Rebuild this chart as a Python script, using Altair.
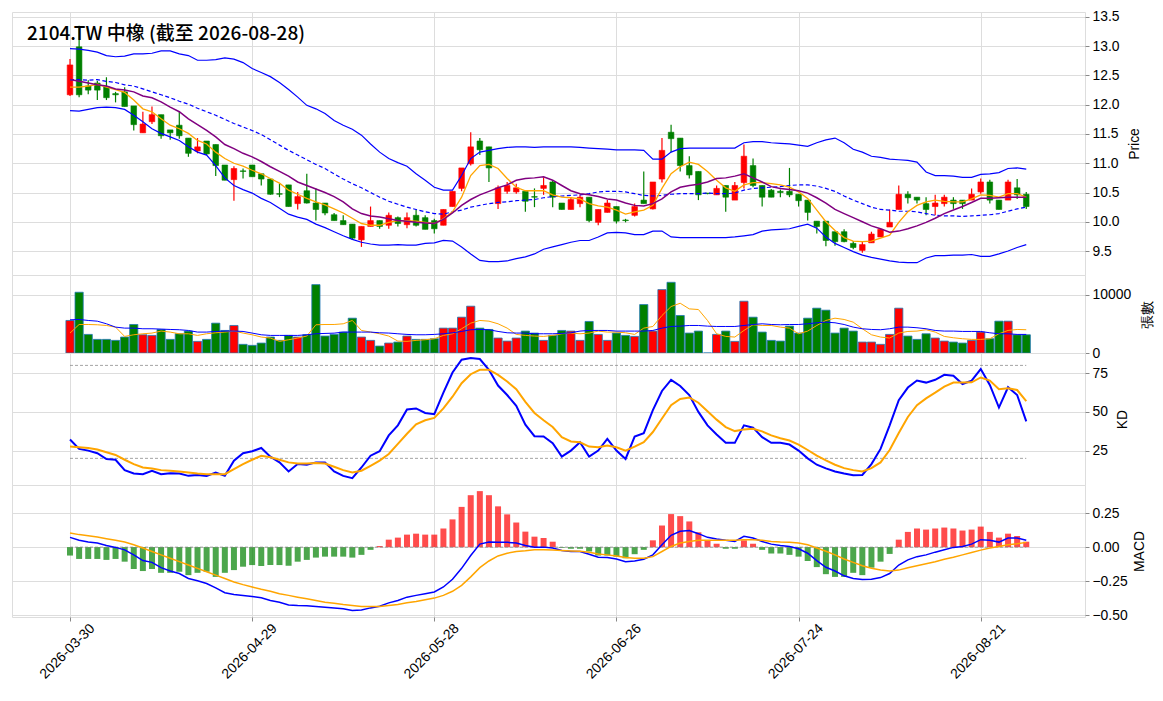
import altair as alt
import pandas as pd

FONT = "Noto Sans CJK TC"
title_text = "2104.TW 中橡 (截至 2026-08-28)"
tick_pos = [0, 20, 40, 60, 80, 100]
tick_labels = ["2026-03-30", "2026-04-29", "2026-05-28", "2026-06-26", "2026-07-24", "2026-08-21"]

opens = [12.17, 12.99, 12.32, 12.37, 12.31, 12.19, 12.22, 11.98, 11.52, 11.71,
         11.83, 11.57, 11.65, 11.43, 11.21, 11.38, 11.32, 10.97, 10.72, 10.87,
         10.97, 10.82, 10.73, 10.48, 10.63, 10.31, 10.53, 10.32, 10.32, 10.12,
         10.02, 9.96, 9.69, 9.92, 10.02, 9.94, 10.07, 9.95, 10.11, 10.07,
         10.02, 9.94, 10.26, 10.57, 10.99, 11.38, 11.28, 10.31, 10.52, 10.51,
         10.52, 10.43, 10.57, 10.68, 10.32, 10.21, 10.31, 10.42, 9.99, 10.16,
         10.26, 10.03, 10.11, 10.37, 10.22, 10.73, 11.53, 11.43, 10.96, 10.86,
         10.49, 10.46, 10.62, 10.37, 10.67, 10.96, 10.62, 10.54, 10.52, 10.52,
         10.47, 10.37, 10.01, 10.01, 9.83, 9.83, 9.63, 9.51, 9.64, 9.74,
         9.91, 10.21, 10.47, 10.42, 10.31, 10.26, 10.31, 10.37, 10.37, 10.37,
         10.51, 10.68, 10.37, 10.37, 10.58, 10.47]
highs = [12.78, 13.35, 12.42, 12.41, 12.47, 12.22, 12.30, 11.98, 11.88, 11.97,
         11.83, 11.57, 11.88, 11.43, 11.43, 11.38, 11.32, 10.97, 10.95, 10.91,
         10.97, 10.82, 10.73, 10.65, 10.63, 10.51, 10.82, 10.57, 10.32, 10.15,
         10.11, 9.96, 9.92, 10.26, 10.02, 10.16, 10.09, 10.16, 10.21, 10.11,
         10.05, 10.21, 10.52, 10.92, 11.53, 11.43, 11.28, 10.62, 10.68, 10.65,
         10.52, 10.57, 10.76, 10.71, 10.32, 10.42, 10.46, 10.42, 10.21, 10.37,
         10.26, 10.05, 10.31, 10.86, 10.68, 11.43, 11.66, 11.43, 11.12, 10.86,
         10.49, 10.62, 10.62, 10.68, 11.32, 11.08, 10.62, 10.56, 10.55, 10.92,
         10.47, 10.37, 10.01, 10.01, 9.83, 9.87, 9.67, 9.66, 9.83, 9.88,
         10.21, 10.62, 10.52, 10.42, 10.42, 10.46, 10.46, 10.42, 10.37, 10.57,
         10.74, 10.72, 10.37, 10.72, 10.73, 10.51]
lows = [12.15, 12.13, 12.18, 12.08, 12.08, 12.04, 11.97, 11.56, 11.52, 11.67,
        11.42, 11.40, 11.42, 11.11, 11.17, 11.14, 10.78, 10.71, 10.36, 10.74,
        10.77, 10.62, 10.46, 10.42, 10.26, 10.21, 10.31, 10.02, 10.11, 10.02,
        9.95, 9.69, 9.57, 9.92, 9.88, 9.88, 9.92, 9.89, 9.92, 9.87,
        9.80, 9.94, 10.26, 10.52, 10.96, 11.14, 10.68, 10.22, 10.48, 10.48,
        10.17, 10.25, 10.46, 10.25, 10.21, 10.21, 10.25, 9.99, 9.94, 10.16,
        9.97, 9.99, 10.09, 10.31, 10.21, 10.67, 11.19, 10.86, 10.74, 10.37,
        10.47, 10.46, 10.17, 10.37, 10.57, 10.59, 10.26, 10.42, 10.42, 10.42,
        10.26, 10.02, 9.80, 9.58, 9.59, 9.65, 9.53, 9.47, 9.64, 9.74,
        9.91, 10.21, 10.31, 10.31, 10.11, 10.11, 10.26, 10.22, 10.22, 10.37,
        10.48, 10.31, 10.21, 10.37, 10.39, 10.22]
closes = [12.68, 12.17, 12.25, 12.25, 12.12, 12.17, 11.97, 11.66, 11.67, 11.83,
          11.47, 11.52, 11.47, 11.17, 11.28, 11.16, 10.96, 10.71, 10.91, 10.86,
          10.77, 10.73, 10.47, 10.47, 10.26, 10.43, 10.32, 10.21, 10.15, 10.02,
          9.95, 9.72, 9.92, 10.02, 9.92, 10.11, 9.97, 10.07, 9.94, 9.87,
          9.88, 10.21, 10.52, 10.92, 11.28, 11.23, 10.92, 10.58, 10.62, 10.58,
          10.35, 10.42, 10.62, 10.42, 10.21, 10.38, 10.42, 10.02, 10.21, 10.32,
          10.01, 10.02, 10.26, 10.31, 10.68, 11.22, 11.42, 10.96, 10.80, 10.46,
          10.48, 10.57, 10.42, 10.62, 11.12, 10.62, 10.42, 10.42, 10.50, 10.46,
          10.36, 10.16, 9.92, 9.68, 9.66, 9.66, 9.56, 9.61, 9.79, 9.87,
          9.99, 10.47, 10.41, 10.37, 10.21, 10.32, 10.42, 10.31, 10.31, 10.47,
          10.68, 10.37, 10.21, 10.68, 10.46, 10.26]

ma5 = [12.30, 12.30, 12.32, 12.35, 12.30, 12.26, 12.21, 12.08, 11.93, 11.88,
       11.76, 11.65, 11.59, 11.51, 11.39, 11.33, 11.19, 11.08, 11.00, 10.95,
       10.88, 10.82, 10.74, 10.66, 10.54, 10.47, 10.40, 10.34, 10.29, 10.22,
       10.15, 10.06, 9.97, 9.94, 9.94, 9.99, 10.02, 10.02, 10.01, 9.99,
       9.97, 10.05, 10.17, 10.42, 10.79, 10.96, 10.98, 10.91, 10.74, 10.59,
       10.53, 10.53, 10.53, 10.46, 10.42, 10.41, 10.39, 10.31, 10.27, 10.25,
       10.20, 10.13, 10.17, 10.20, 10.28, 10.57, 10.82, 10.94, 11.02, 10.98,
       10.86, 10.71, 10.58, 10.52, 10.63, 10.67, 10.67, 10.65, 10.63, 10.59,
       10.51, 10.40, 10.20, 10.00, 9.85, 9.73, 9.67, 9.66, 9.67, 9.72,
       9.77, 9.99, 10.17, 10.28, 10.34, 10.37, 10.35, 10.34, 10.34, 10.39,
       10.46, 10.45, 10.42, 10.48, 10.48, 10.42]
ma10 = [12.43, 12.40, 12.37, 12.34, 12.32, 12.27, 12.25, 12.22, 12.15, 12.12,
        12.05, 11.96, 11.88, 11.76, 11.66, 11.56, 11.45, 11.32, 11.25, 11.17,
        11.11, 11.03, 10.94, 10.86, 10.78, 10.68, 10.62, 10.56, 10.50, 10.43,
        10.34, 10.22, 10.14, 10.10, 10.08, 10.05, 10.02, 10.01, 9.99, 9.98,
        9.97, 10.04, 10.15, 10.28, 10.38, 10.46, 10.52, 10.58, 10.63, 10.71,
        10.74, 10.75, 10.77, 10.71, 10.62, 10.53, 10.48, 10.46, 10.43, 10.39,
        10.37, 10.32, 10.28, 10.27, 10.31, 10.39, 10.51, 10.59, 10.62, 10.64,
        10.68, 10.74, 10.75, 10.78, 10.82, 10.75, 10.68, 10.60, 10.57, 10.55,
        10.53, 10.49, 10.41, 10.32, 10.21, 10.14, 10.07, 10.00, 9.93, 9.88,
        9.82, 9.84, 9.88, 9.93, 9.99, 10.06, 10.14, 10.20, 10.26, 10.33,
        10.40, 10.40, 10.41, 10.42, 10.42, 10.42]
bb_up = [12.96, 12.95, 12.93, 12.90, 12.84, 12.82, 12.83, 12.87, 12.87, 12.88,
         12.92, 12.92, 12.87, 12.84, 12.76, 12.76, 12.77, 12.80, 12.78, 12.72,
         12.62, 12.55, 12.48, 12.38, 12.26, 12.13, 11.99, 11.93, 11.85, 11.73,
         11.65, 11.58, 11.48, 11.33, 11.19, 11.08, 11.01, 10.95, 10.82, 10.71,
         10.59, 10.54, 10.54, 10.79, 11.08, 11.19, 11.22, 11.25, 11.27, 11.28,
         11.28, 11.27, 11.28, 11.28, 11.28, 11.28, 11.27, 11.26, 11.25, 11.24,
         11.23, 11.23, 11.23, 11.22, 11.07, 11.07, 11.19, 11.25, 11.26, 11.26,
         11.26, 11.26, 11.26, 11.26, 11.35, 11.37, 11.37, 11.35, 11.34, 11.33,
         11.31, 11.29, 11.35, 11.40, 11.43, 11.35, 11.24, 11.19, 11.12, 11.10,
         11.07, 11.06, 11.05, 11.02, 10.85, 10.79, 10.79, 10.78, 10.76, 10.76,
         10.81, 10.82, 10.84, 10.91, 10.92, 10.90]
bb_mid = [12.43, 12.43, 12.42, 12.43, 12.40, 12.38, 12.34, 12.32, 12.27, 12.22,
          12.17, 12.12, 12.06, 12.01, 11.94, 11.88, 11.82, 11.75, 11.68, 11.62,
          11.56, 11.49, 11.40, 11.31, 11.22, 11.14, 11.06, 10.98, 10.91, 10.82,
          10.73, 10.65, 10.58, 10.50, 10.42, 10.35, 10.30, 10.25, 10.21, 10.17,
          10.14, 10.13, 10.17, 10.20, 10.25, 10.28, 10.31, 10.33, 10.34, 10.36,
          10.37, 10.38, 10.41, 10.43, 10.44, 10.45, 10.46, 10.48, 10.51, 10.52,
          10.52, 10.51, 10.48, 10.45, 10.44, 10.45, 10.47, 10.48, 10.48, 10.48,
          10.49, 10.48, 10.48, 10.49, 10.54, 10.57, 10.58, 10.59, 10.60, 10.62,
          10.63, 10.63, 10.61, 10.57, 10.52, 10.44, 10.37, 10.31, 10.25, 10.21,
          10.20, 10.18, 10.18, 10.17, 10.14, 10.11, 10.10, 10.10, 10.09, 10.10,
          10.11, 10.12, 10.14, 10.18, 10.22, 10.25]
bb_low = [11.90, 11.89, 11.92, 11.95, 11.96, 11.95, 11.92, 11.82, 11.71, 11.59,
          11.51, 11.45, 11.39, 11.28, 11.19, 11.14, 10.96, 10.75, 10.62, 10.55,
          10.49, 10.40, 10.33, 10.23, 10.13, 10.08, 10.04, 9.96, 9.90, 9.83,
          9.76, 9.70, 9.65, 9.62, 9.60, 9.60, 9.61, 9.60, 9.60, 9.63,
          9.64, 9.68, 9.67, 9.57, 9.45, 9.34, 9.32, 9.32, 9.33, 9.37,
          9.40, 9.45, 9.53, 9.57, 9.61, 9.65, 9.68, 9.68, 9.74, 9.81,
          9.82, 9.81, 9.78, 9.78, 9.84, 9.84, 9.74, 9.73, 9.73, 9.73,
          9.73, 9.73, 9.73, 9.74, 9.76, 9.78, 9.84, 9.86, 9.87, 9.88,
          9.92, 9.96, 9.89, 9.74, 9.63, 9.56, 9.49, 9.43, 9.39, 9.36,
          9.33, 9.31, 9.30, 9.30, 9.38, 9.42, 9.42, 9.43, 9.43, 9.44,
          9.41, 9.41, 9.45, 9.50, 9.56, 9.61]

volumes = [5570, 10400, 3180, 2330, 2330, 2160, 2730, 4880, 3120, 3010,
           4030, 2330, 3290, 3750, 1990, 2330, 5110, 3860, 4710, 1480,
           1310, 1700, 2730, 2160, 3010, 2730, 3120, 11700, 2900, 3180,
           3580, 5960, 2730, 2160, 1190, 1700, 1870, 2900, 2330, 2330,
           2440, 4260, 4260, 6130, 8010, 4260, 4030, 2560, 2040, 2560,
           3750, 3410, 2160, 3010, 3860, 3750, 2160, 5400, 3180, 2160,
           3410, 3010, 2840, 8290, 3750, 10850, 12100, 6420, 3410, 3750,
           0, 3180, 3750, 1990, 8860, 6130, 3580, 2160, 2040, 4600,
           3410, 5960, 7670, 7330, 3410, 4260, 3750, 1870, 1870, 1480,
           3180, 7670, 2900, 2330, 3290, 2560, 2040, 1870, 1700, 2160,
           3580, 2440, 5450, 5450, 3120, 3120]
vol_ma5 = [3410, 4880, 4880, 4830, 4710, 4430, 2840, 3120, 3290, 3410,
           3750, 3580, 3290, 3290, 3010, 3290, 3460, 3580, 3750, 3410,
           3120, 2730, 2560, 1990, 2270, 2560, 2900, 4830, 4880, 4880,
           5000, 5570, 3860, 3580, 3290, 2900, 2040, 1990, 2160, 2270,
           2440, 3010, 3290, 4150, 5110, 5570, 5450, 5000, 4260, 3180,
           3010, 2900, 2840, 3010, 3290, 3410, 3290, 3410, 3750, 3580,
           3580, 3460, 3180, 4260, 4540, 6420, 7950, 8520, 7550, 7440,
           5570, 3290, 2840, 2730, 3860, 4830, 4710, 4710, 4430, 4260,
           3290, 3750, 4710, 5570, 5960, 5740, 5280, 4150, 3120, 2730,
           2560, 3410, 3690, 3750, 3980, 3580, 2840, 2610, 2440, 2330,
           2330, 2440, 3290, 3860, 4030, 3980]
vol_ma20 = [5680, 5740, 5570, 5450, 5000, 4430, 4260, 4260, 4150, 4150,
            4090, 4030, 3980, 3860, 3580, 3580, 3690, 3750, 3750, 3690,
            3410, 3120, 3010, 3010, 3010, 3010, 3120, 3290, 3350, 3400,
            3580, 3580, 3580, 3580, 3460, 3410, 3290, 3180, 3120, 3120,
            3180, 3290, 3460, 3690, 3980, 4030, 3980, 3690, 3460, 3410,
            3410, 3290, 3290, 3290, 3350, 3460, 3750, 3860, 3860, 3860,
            3750, 3750, 3750, 3750, 3860, 4260, 4540, 4600, 4710, 4710,
            4600, 4540, 4540, 4540, 4710, 4880, 5000, 4880, 4830, 4880,
            4880, 5000, 5170, 5280, 5170, 4880, 4430, 4150, 4030, 3980,
            4150, 4430, 4430, 4320, 4150, 3860, 3750, 3750, 3690, 3690,
            3690, 3460, 3290, 3290, 3180, 3180]

k_vals = [32.2, 26.1, 25.0, 23.3, 19.6, 19.1, 12.4, 10.2, 9.8, 12.0,
          9.8, 10.4, 10.2, 8.7, 9.3, 8.7, 10.9, 8.7, 18.5, 23.3,
          24.6, 26.7, 21.1, 17.4, 11.5, 16.3, 15.9, 17.4, 17.4, 11.5,
          8.7, 7.2, 14.1, 21.7, 24.6, 34.8, 41.3, 51.5, 52.2, 49.3,
          48.5, 62.4, 75.4, 83.7, 84.8, 84.1, 77.2, 67.0, 60.9, 53.9,
          41.7, 34.3, 34.1, 29.8, 21.1, 25.0, 30.4, 21.1, 25.0, 32.6,
          25.0, 19.6, 34.1, 36.3, 51.1, 63.5, 70.7, 66.7, 60.9, 50.0,
          41.3, 35.4, 30.0, 30.0, 41.3, 39.8, 33.7, 30.0, 30.0, 28.9,
          25.0, 20.0, 15.9, 13.5, 11.5, 10.2, 9.1, 9.3, 16.3, 26.1,
          41.3, 57.6, 65.7, 70.2, 68.9, 70.7, 73.9, 73.3, 68.0, 70.2,
          77.6, 67.4, 52.8, 65.9, 60.9, 43.9]
d_vals = [27.6, 27.2, 26.7, 25.7, 23.9, 22.2, 19.1, 16.3, 14.1, 13.5,
          12.4, 12.0, 11.5, 10.9, 10.2, 9.8, 9.8, 9.8, 13.0, 16.3,
          19.1, 21.7, 20.7, 19.1, 17.4, 16.7, 16.7, 17.0, 16.7, 14.6,
          12.4, 10.9, 12.0, 15.2, 18.5, 22.8, 29.3, 35.9, 42.0, 44.6,
          46.1, 52.2, 59.8, 68.5, 74.3, 77.2, 77.2, 73.9, 69.6, 64.6,
          56.5, 49.3, 44.6, 40.2, 33.7, 30.9, 30.4, 27.6, 27.2, 28.3,
          27.2, 25.0, 27.6, 30.4, 37.0, 45.7, 54.3, 58.3, 59.3, 55.9,
          50.4, 45.0, 40.2, 37.6, 38.7, 39.1, 37.4, 34.8, 33.0, 31.5,
          28.9, 25.4, 21.7, 18.7, 15.9, 13.7, 12.4, 11.5, 13.7, 17.4,
          25.4, 36.3, 46.7, 54.3, 58.7, 62.4, 66.3, 68.9, 68.9, 69.1,
          72.2, 70.2, 64.6, 65.2, 64.1, 57.0]

macd_hist = [-0.062, -0.087, -0.087, -0.087, -0.094, -0.087, -0.107, -0.161, -0.176, -0.161,
             -0.189, -0.189, -0.181, -0.206, -0.189, -0.181, -0.219, -0.189, -0.169, -0.144,
             -0.132, -0.139, -0.132, -0.132, -0.137, -0.107, -0.094, -0.077, -0.070, -0.070,
             -0.070, -0.077, -0.057, -0.020, 0.008, 0.055, 0.070, 0.092, 0.099, 0.092,
             0.092, 0.137, 0.204, 0.296, 0.382, 0.412, 0.382, 0.300, 0.241, 0.181,
             0.114, 0.077, 0.067, 0.040, -0.005, -0.012, -0.012, -0.032, -0.062, -0.062,
             -0.070, -0.082, -0.052, -0.020, 0.050, 0.159, 0.243, 0.228, 0.189, 0.109,
             0.047, 0.025, -0.012, -0.012, 0.050, 0.025, -0.020, -0.047, -0.047, -0.057,
             -0.070, -0.102, -0.147, -0.199, -0.219, -0.219, -0.189, -0.206, -0.151, -0.107,
             -0.050, 0.055, 0.112, 0.137, 0.129, 0.137, 0.144, 0.137, 0.122, 0.129,
             0.151, 0.112, 0.070, 0.099, 0.082, 0.040]
dif = [0.072, 0.050, 0.037, 0.030, 0.012, -0.002, -0.020, -0.057, -0.099, -0.112,
       -0.151, -0.176, -0.194, -0.231, -0.248, -0.268, -0.300, -0.335, -0.348, -0.355,
       -0.363, -0.372, -0.392, -0.405, -0.425, -0.430, -0.432, -0.437, -0.442, -0.447,
       -0.454, -0.467, -0.462, -0.447, -0.435, -0.410, -0.392, -0.368, -0.355, -0.343,
       -0.330, -0.293, -0.236, -0.156, -0.062, 0.022, 0.037, 0.035, 0.035, 0.030,
       0.012, 0.000, 0.000, -0.007, -0.025, -0.032, -0.032, -0.052, -0.074, -0.077,
       -0.087, -0.107, -0.102, -0.089, -0.057, 0.017, 0.087, 0.117, 0.122, 0.099,
       0.072, 0.060, 0.050, 0.042, 0.079, 0.067, 0.042, 0.022, 0.012, 0.005,
       -0.012, -0.045, -0.099, -0.148, -0.176, -0.211, -0.231, -0.238, -0.236, -0.224,
       -0.194, -0.132, -0.094, -0.070, -0.057, -0.037, -0.020, -0.002, 0.005, 0.022,
       0.055, 0.050, 0.037, 0.067, 0.067, 0.050]
dea = [0.104, 0.092, 0.084, 0.074, 0.062, 0.050, 0.037, 0.017, -0.007, -0.032,
       -0.057, -0.082, -0.107, -0.132, -0.156, -0.181, -0.206, -0.231, -0.256, -0.276,
       -0.293, -0.310, -0.325, -0.343, -0.355, -0.368, -0.380, -0.392, -0.405, -0.412,
       -0.422, -0.430, -0.437, -0.437, -0.437, -0.430, -0.422, -0.410, -0.400, -0.387,
       -0.375, -0.355, -0.325, -0.281, -0.219, -0.151, -0.102, -0.065, -0.045, -0.032,
       -0.027, -0.020, -0.020, -0.022, -0.025, -0.028, -0.030, -0.037, -0.050, -0.057,
       -0.065, -0.077, -0.082, -0.082, -0.070, -0.032, 0.005, 0.030, 0.042, 0.050,
       0.050, 0.050, 0.050, 0.050, 0.055, 0.055, 0.050, 0.042, 0.037, 0.035,
       0.030, 0.017, -0.007, -0.030, -0.057, -0.087, -0.112, -0.137, -0.156, -0.169,
       -0.176, -0.169, -0.151, -0.137, -0.122, -0.107, -0.089, -0.074, -0.057, -0.040,
       -0.022, -0.007, 0.005, 0.017, 0.025, 0.035]

kd_levels = [80, 20]

n = len(closes)
df = pd.DataFrame({
    "i": list(range(n)), "open": opens, "high": highs, "low": lows, "close": closes,
    "ma5": ma5, "ma10": ma10, "bb_up": bb_up, "bb_mid": bb_mid, "bb_low": bb_low,
    "vol": volumes, "vol_ma5": vol_ma5, "vol_ma20": vol_ma20,
    "k": k_vals, "d": d_vals, "hist": macd_hist, "dif": dif, "dea": dea,
})
df["dir"] = ["up" if c >= o else "down" for o, c in zip(opens, closes)]
df["hdir"] = ["pos" if h >= 0 else "neg" for h in macd_hist]
df["zero"] = 0.0

ref_df = pd.DataFrame({"level": kd_levels, "x0": [0] * len(kd_levels), "x1": [n - 1] * len(kd_levels)})

W = 1073
XDOM = [-6.37, 111.45]
FS = 13.9
label_expr = ("[" + ",".join("'%s'" % t for t in tick_labels) + "][indexof(["
              + ",".join(str(p) for p in tick_pos) + "], datum.value)]")


def xscale():
    return alt.Scale(domain=XDOM, nice=False, zero=False, padding=0)


def xenc(bottom=False, field="i"):
    if bottom:
        axis = alt.Axis(values=tick_pos, labelExpr=label_expr, labelAngle=315,
                        labelAlign="center", labelBaseline="middle", labelPadding=30,
                        labelOffset=-3, tickSize=4, grid=True, title=None, domain=False,
                        labelFontSize=FS, labelBound=False, labelOverlap=False)
    else:
        axis = alt.Axis(values=tick_pos, labels=False, ticks=False, domain=False,
                        grid=True, title=None)
    return alt.X(field + ":Q", scale=xscale(), axis=axis)


def yaxis(values, fmt, title, tx, h):
    return alt.Axis(orient="right", values=values, format=fmt, title=title, titleAngle=270,
                    titleFontSize=FS, titleFontWeight="normal", labelFontSize=FS,
                    tickSize=4, labelPadding=3, domain=False, grid=True,
                    titleX=tx, titleY=h / 2, titleAlign="center", titleBaseline="middle")


updown = alt.Scale(domain=["up", "down"], range=["#ff0000", "#008000"])

# ---- Panel 1: price ----
H1, H2, H3, H4 = 263, 78, 132, 132
ys1 = alt.Scale(domain=[9.09, 13.585], nice=False, zero=False)
ya1 = yaxis([9.5, 10.0, 10.5, 11.0, 11.5, 12.0, 12.5, 13.0, 13.5], ".1f", "Price", 49, H1)
base = alt.Chart(df)

wick = base.mark_rule(strokeWidth=1.2).encode(
    x=xenc(), y=alt.Y("low:Q", scale=ys1, axis=ya1), y2="high:Q",
    color=alt.Color("dir:N", scale=updown, legend=None))
body = base.mark_bar(size=5.6, strokeWidth=0.6).encode(
    x=xenc(), y=alt.Y("open:Q", scale=ys1, axis=ya1), y2="close:Q",
    color=alt.Color("dir:N", scale=updown, legend=None),
    stroke=alt.Color("dir:N", scale=updown, legend=None))


def pline(field, color, width, dash=None):
    kw = dict(color=color, strokeWidth=width)
    if dash:
        kw["strokeDash"] = dash
    return base.mark_line(**kw).encode(x=xenc(), y=alt.Y(field + ":Q", scale=ys1, axis=ya1))


title_df = pd.DataFrame({"t": [title_text]})
title_mark = alt.Chart(title_df).mark_text(
    align="left", baseline="alphabetic", fontSize=19, font=FONT, fontWeight=500, color="black"
).encode(text="t:N", x=alt.value(15), y=alt.value(28))

p1 = alt.layer(
    wick, body,
    pline("bb_up", "blue", 1.2),
    pline("bb_mid", "blue", 1.2, [4, 2.5]),
    pline("bb_low", "blue", 1.2),
    pline("ma5", "orange", 1.3),
    pline("ma10", "purple", 1.5),
    title_mark,
).properties(width=W, height=H1)

# ---- Panel 2: volume ----
ys2 = alt.Scale(domain=[0, 13350], nice=False, zero=False)
ya2 = yaxis([0, 10000], "d", "張數", 62, H2)
vbars = base.mark_bar(size=8.2, stroke="#1f77b4", strokeWidth=0.8).encode(
    x=xenc(), y=alt.Y("vol:Q", scale=ys2, axis=ya2), y2=alt.Y2("zero:Q"),
    color=alt.Color("dir:N", scale=updown, legend=None))
vma5 = base.mark_line(color="orange", strokeWidth=1.0).encode(
    x=xenc(), y=alt.Y("vol_ma5:Q", scale=ys2, axis=ya2))
vma20 = base.mark_line(color="blue", strokeWidth=1.0).encode(
    x=xenc(), y=alt.Y("vol_ma20:Q", scale=ys2, axis=ya2))
p2 = alt.layer(vbars, vma5, vma20).properties(width=W, height=H2)

# ---- Panel 3: KD ----
ys3 = alt.Scale(domain=[2.8, 88], nice=False, zero=False)
ya3 = yaxis([25, 50, 75], "d", "KD", 37, H3)
kd_ref = alt.Chart(ref_df).mark_rule(color="#808080", strokeWidth=0.9, strokeDash=[3, 2], opacity=0.8).encode(
    x=xenc(field="x0"), x2="x1:Q", y=alt.Y("level:Q", scale=ys3, axis=ya3))
kline = base.mark_line(color="blue", strokeWidth=2).encode(
    x=xenc(), y=alt.Y("k:Q", scale=ys3, axis=ya3))
dline = base.mark_line(color="orange", strokeWidth=2).encode(
    x=xenc(), y=alt.Y("d:Q", scale=ys3, axis=ya3))
p3 = alt.layer(kd_ref, kline, dline).properties(width=W, height=H3)

# ---- Panel 4: MACD ----
ys4 = alt.Scale(domain=[-0.514, 0.457], nice=False, zero=False)
ya4 = yaxis([-0.5, -0.25, 0.0, 0.25], ".2f", "MACD", 54, H4)
hscale = alt.Scale(domain=["pos", "neg"], range=["#ff0000", "#008000"])
hbars = base.mark_bar(size=6, opacity=0.7).encode(
    x=xenc(bottom=True), y=alt.Y("hist:Q", scale=ys4, axis=ya4), y2=alt.Y2("zero:Q"),
    color=alt.Color("hdir:N", scale=hscale, legend=None))
zline = base.mark_rule(color="#808080", strokeWidth=0.9, strokeDash=[3, 2], opacity=0.8).encode(
    x=alt.X("min(i):Q", scale=xscale()),
    x2="max(i):Q",
    y=alt.Y("mean(zero):Q", scale=ys4, axis=ya4))
difl = base.mark_line(color="blue", strokeWidth=1.5).encode(
    x=xenc(bottom=True), y=alt.Y("dif:Q", scale=ys4, axis=ya4))
deal = base.mark_line(color="orange", strokeWidth=1.5).encode(
    x=xenc(bottom=True), y=alt.Y("dea:Q", scale=ys4, axis=ya4))
p4 = alt.layer(hbars, zline, difl, deal).properties(width=W, height=H4)

chart = alt.vconcat(p1, p2, p3, p4, spacing=0, bounds="flush").properties(
    padding={"left": 3, "top": 1, "right": 0, "bottom": 0}
).configure_view(
    stroke="black", strokeWidth=1.2
).configure_axis(
    gridColor="#9a9a9a", gridDash=[1, 2], gridWidth=0.8, gridOpacity=1,
    labelFont=FONT, titleFont=FONT, labelColor="black", titleColor="black",
    tickColor="black", tickWidth=0.8
).configure(background="white")

chart.save("out.html", embed_options={"renderer": "svg", "actions": False})
